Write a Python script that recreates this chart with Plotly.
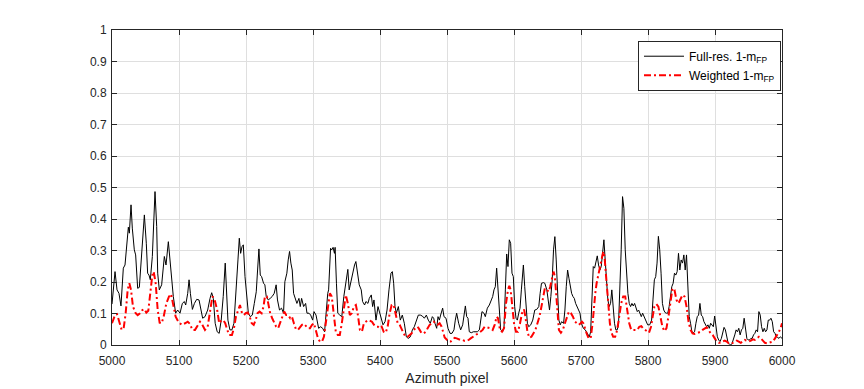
import plotly.graph_objects as go

# Full-res. 1-m_FP (black)
full_x = [5000, 5004.5, 5007.5, 5010.4, 5013.4, 5016.9, 5019.4, 5021.9, 5024.4, 5025.9, 5028.4, 5030.3,
          5033.3, 5035.3, 5038.3, 5040.8, 5044.3, 5048.3, 5051.2, 5053.2, 5055.2, 5057.2, 5060.2, 5064.2,
          5066.7, 5068.2, 5070.6, 5074.1, 5078.1, 5080.6, 5084.1, 5086.6, 5089.1, 5091.5, 5095, 5098,
          5101.5, 5105, 5108, 5110, 5113, 5115, 5117, 5120, 5123, 5126.4, 5129.9, 5132.8, 5135.3, 5138.8,
          5142.8, 5146.3, 5148.8, 5151.2,
          5154, 5157, 5160, 5163, 5166, 5169, 5171, 5173, 5176, 5179, 5182, 5185, 5188, 5190, 5192, 5194,
          5196, 5198.5, 5201, 5203.5, 5206.4, 5209.4, 5212.4, 5215.3, 5217.3, 5219.3, 5221.3, 5223.3,
          5226.2, 5228.2, 5230.2, 5233.2, 5236.1, 5239.1, 5242.1, 5245, 5247, 5250, 5253, 5256, 5258,
          5261, 5263, 5265, 5267, 5269, 5271, 5273, 5276, 5279, 5281, 5283, 5286, 5289, 5291, 5294,
          5296.5, 5299.5, 5301.5, 5304.5, 5306.4, 5308.4, 5311.4, 5314.4, 5317.3,
          5319, 5320.3, 5322, 5323.3, 5325, 5326.2, 5328, 5330, 5332, 5333, 5335, 5337, 5340, 5343, 5346,
          5349, 5352, 5354, 5357, 5360, 5362, 5364, 5366, 5369, 5372, 5374, 5377, 5379, 5382, 5384, 5387,
          5389, 5391, 5394, 5397, 5398.5, 5401.5, 5404.5, 5407.5, 5410.5, 5413.4, 5416.4, 5418.4, 5420.4,
          5422.4, 5424.4, 5427.4, 5430.3, 5433.3, 5436.3, 5439.3, 5442.3, 5445.3, 5448.3, 5451.2, 5454.2,
          5457.2, 5460.2, 5463.2, 5466.2, 5469.2, 5472.1, 5475.1, 5478.1, 5480.1,
          5482, 5484.6, 5486.6, 5488.6, 5490.5, 5493.5, 5495.5, 5498.5, 5501.5, 5504.5, 5507.5, 5510.4,
          5512.4, 5514.4, 5517.4, 5520.4, 5523.4, 5525.4, 5527.4, 5529.4, 5531.3, 5533.3, 5536.3, 5539.3,
          5542.3, 5545.3, 5548.3, 5550.2, 5552.2, 5555.2, 5557.2, 5560.2, 5563.2, 5566.2, 5568.2, 5570.1,
          5572.1, 5574.1, 5576.1, 5578.1, 5580.1, 5583.1, 5585.1, 5587.1, 5589.1, 5591, 5593, 5595, 5597,
          5599, 5601, 5603, 5605, 5607, 5609, 5611, 5614, 5616, 5618, 5620, 5622, 5625, 5628, 5631, 5634,
          5637, 5639, 5641, 5644,
          5646, 5649, 5651, 5653, 5655, 5657, 5659, 5661, 5663, 5665, 5667, 5669, 5671, 5674, 5676, 5678,
          5680, 5682, 5684, 5686, 5688, 5690, 5692, 5694, 5695.5, 5698.5, 5700.5, 5703.5, 5706.4, 5709.4,
          5712.4, 5714.4, 5716.3, 5718.3, 5720.3, 5722.3, 5724.3, 5726.2, 5728.2, 5730.2, 5732.2, 5734.2,
          5736.1, 5738.1, 5740.1, 5742.1, 5744.1, 5746, 5748, 5750, 5752, 5754, 5756, 5758, 5760, 5762,
          5764, 5766, 5768, 5770, 5772, 5774, 5776, 5778, 5780, 5782, 5784, 5786, 5788, 5790, 5792, 5794,
          5795.5, 5797.5, 5799.5, 5802.5, 5805.4, 5807.4,
          5809.5, 5811.5, 5813.5, 5815.5, 5817.5, 5819.5, 5821.5, 5823.5, 5825.5, 5827.5, 5829.5, 5831.5,
          5833.5, 5835.5, 5837.5, 5839.5, 5841.5, 5843.5, 5845.5, 5847.5, 5849.5, 5851.5, 5853.5, 5855.5,
          5857.5, 5859.5, 5861.5, 5863.5, 5865.5, 5867.5, 5869.5, 5871.5, 5873.5, 5875.5, 5877.5, 5879.5,
          5881.5, 5883.5, 5885.5, 5887.5, 5889.5, 5891.5, 5893.5, 5895.5, 5897.5, 5899.5, 5901.5, 5903.5,
          5905.5, 5907.5, 5909.5, 5911.5, 5913.5, 5915.5, 5917.5, 5919.5, 5921.5, 5923.5, 5925.5, 5927.5,
          5929.5, 5931.5, 5933.5, 5935.5, 5937.5, 5939.5, 5941.5, 5943.5, 5945.5, 5947.5, 5949.5, 5951.5,
          5953.5, 5955.5, 5957.5, 5959.5, 5961.5, 5963.5, 5965.5, 5967.5, 5969.5, 5971.5, 5973.5, 5975.5,
          5977.5, 5979.5, 5981.5, 5983.5, 5985.5, 5987.5, 5989.5, 5991.5, 5993.5, 5995.5, 5997.5, 6000]
full_y = [0.13, 0.233, 0.175, 0.164, 0.124, 0.244, 0.254, 0.323, 0.374, 0.355, 0.445, 0.371,
          0.302, 0.286, 0.180, 0.183, 0.281, 0.413, 0.323, 0.228, 0.222, 0.207, 0.281, 0.487,
          0.376, 0.228, 0.175, 0.191, 0.281, 0.254, 0.328, 0.270, 0.217, 0.154, 0.101, 0.111,
          0.101, 0.132, 0.138, 0.127, 0.164, 0.207, 0.164, 0.113, 0.132, 0.145, 0.143, 0.113, 0.085, 0.090,
          0.111, 0.148, 0.166, 0.148,
          0.069, 0.042, 0.037, 0.079, 0.154, 0.260, 0.175, 0.079, 0.048, 0.048, 0.069, 0.154, 0.270, 0.339, 0.291, 0.312,
          0.318, 0.217, 0.143, 0.101, 0.090, 0.095, 0.132, 0.169, 0.238, 0.305, 0.222, 0.217,
          0.196, 0.191, 0.154, 0.143, 0.148, 0.154, 0.164, 0.191, 0.143, 0.111, 0.117, 0.101, 0.201,
          0.228, 0.270, 0.297, 0.260, 0.238, 0.164, 0.148, 0.132, 0.148, 0.122, 0.148, 0.122, 0.132, 0.101, 0.101,
          0.095, 0.079, 0.106, 0.095, 0.069, 0.053, 0.058, 0.053, 0.042,
          0.090, 0.111, 0.164, 0.175, 0.260, 0.307, 0.302, 0.310, 0.291, 0.310, 0.196, 0.101, 0.095, 0.090, 0.154,
          0.196, 0.240, 0.175, 0.207, 0.238, 0.254, 0.265, 0.228, 0.191, 0.175, 0.138, 0.127, 0.138, 0.132, 0.148, 0.159,
          0.122, 0.143, 0.079, 0.122, 0.111, 0.085, 0.064, 0.074, 0.111, 0.175, 0.228, 0.233, 0.196,
          0.122, 0.101, 0.122, 0.079, 0.095, 0.069, 0.026, 0.021, 0.026, 0.048, 0.058, 0.074,
          0.095, 0.095, 0.092, 0.085, 0.095, 0.079, 0.069, 0.090, 0.085,
          0.069, 0.053, 0.090, 0.079, 0.095, 0.117, 0.090, 0.085, 0.053, 0.037, 0.037, 0.048,
          0.079, 0.101, 0.069, 0.048, 0.064, 0.090, 0.124, 0.090, 0.085, 0.042, 0.039, 0.042,
          0.042, 0.042, 0.048, 0.074, 0.106, 0.101, 0.090, 0.117, 0.127, 0.143, 0.154, 0.175,
          0.185, 0.244, 0.164, 0.101, 0.048, 0.042, 0.058, 0.175, 0.289, 0.249, 0.334, 0.323, 0.228,
          0.217, 0.122, 0.085, 0.079, 0.101, 0.117, 0.175, 0.254, 0.185, 0.111, 0.069, 0.058, 0.064, 0.079, 0.111, 0.113,
          0.122, 0.164, 0.196, 0.198,
          0.196, 0.175, 0.132, 0.111, 0.154, 0.207, 0.302, 0.344, 0.270, 0.143, 0.079, 0.064, 0.074, 0.069, 0.111, 0.185,
          0.238, 0.212, 0.185, 0.164, 0.154, 0.148, 0.132, 0.122, 0.111, 0.101, 0.069, 0.053, 0.048, 0.037,
          0.026, 0.042, 0.132, 0.249, 0.244, 0.260, 0.283, 0.254, 0.238, 0.249, 0.291, 0.334,
          0.270, 0.196, 0.143, 0.122, 0.132, 0.175, 0.122, 0.069, 0.048, 0.048, 0.064, 0.164, 0.302, 0.471,
          0.434, 0.302, 0.217, 0.164, 0.132, 0.122, 0.132, 0.124, 0.132, 0.122, 0.106, 0.111, 0.101, 0.090, 0.101, 0.090,
          0.085, 0.074, 0.064, 0.064, 0.079, 0.143,
          0.207, 0.217, 0.260, 0.345, 0.302, 0.228, 0.132, 0.111, 0.103, 0.101, 0.101, 0.122,
          0.164, 0.185, 0.196, 0.228, 0.222, 0.233, 0.291, 0.238, 0.270, 0.260, 0.286, 0.238,
          0.286, 0.175, 0.090, 0.069, 0.042, 0.039, 0.042, 0.069, 0.090, 0.095, 0.132, 0.095,
          0.090, 0.074, 0.064, 0.058, 0.064, 0.053, 0.069, 0.064, 0.058, 0.092, 0.053, 0.026,
          0.016, 0.011, 0.021, 0.042, 0.056, 0.048, 0.026, 0.007, 0.003, 0.000, 0.005, 0.016,
          0.032, 0.048, 0.042, 0.053, 0.032, 0.048, 0.053, 0.085, 0.042, 0.021, 0.016, 0.016,
          0.021, 0.021, 0.032, 0.037, 0.048, 0.042, 0.106, 0.095, 0.058, 0.042, 0.053, 0.042,
          0.048, 0.079, 0.079, 0.085, 0.074, 0.042, 0.037, 0.026, 0.024, 0.021, 0.026, 0.021]

# Weighted 1-m_FP (red dash-dot)
weighted_x = [5000, 5004.5, 5007.5, 5010.4, 5014.4, 5017.4, 5020.4, 5023.4, 5025.9, 5028.4, 5031.3, 5035.3,
              5038.3, 5041.8, 5045.3, 5048.3, 5051.2, 5054.2, 5057.2, 5060.2, 5062.2, 5065.2, 5068.2, 5071.1,
              5074.1, 5077.1, 5081.1, 5085.1, 5088.1, 5091.5, 5095, 5099, 5104, 5109, 5113, 5116.4, 5119.9,
              5123.9, 5127.9, 5131.3, 5134.8, 5138.8, 5142.8, 5146.8, 5149.8, 5152.7,
              5157, 5160, 5163, 5166, 5169, 5172, 5175, 5179, 5182, 5185, 5188, 5191, 5194, 5197, 5199.5,
              5202.5, 5205.5, 5208.5, 5211.5, 5214.4, 5217.3, 5220.3, 5223.3, 5226.2, 5228.2, 5231.2, 5233.2,
              5236.1, 5239.1, 5242.1, 5245, 5248, 5251, 5254, 5257, 5260, 5263, 5266, 5268.5, 5271.5, 5274.5,
              5277.5, 5280.5, 5283.5, 5286.5, 5289.5, 5292.5, 5295.5, 5298.5, 5301.5, 5304.5, 5307.4, 5310.4,
              5313.4, 5316.3, 5319.3, 5322.3, 5325.2,
              5328, 5331, 5334, 5337, 5340, 5343, 5346, 5349, 5352, 5355, 5358, 5361, 5364, 5367, 5370, 5373,
              5376, 5379, 5382, 5385, 5388, 5391, 5394, 5397, 5399.5, 5402.5, 5405.5, 5408.5, 5411.4, 5414.4,
              5417.4, 5420.4, 5423.4, 5426.4, 5429.4, 5432.3, 5435.3, 5438.3, 5441.3, 5444.3, 5447.3, 5450.2,
              5453.2, 5456.2, 5459.2, 5462.2, 5465.2, 5468.2, 5471.1, 5474.1, 5477.1, 5480.1, 5483.1, 5486.1,
              5489, 5492,
              5496.5, 5499.5, 5502.5, 5505.5, 5508.5, 5511.4, 5514.4, 5517.4, 5520.4, 5523.4, 5526.4, 5529.4,
              5532.3, 5535.3, 5538.3, 5541.3, 5544.3, 5547.3, 5550.2, 5553.2, 5556.2, 5559.2, 5562.2, 5565.2,
              5568.2, 5571.1, 5574.1, 5576.1, 5579.1, 5582.1, 5585.1, 5588.1, 5591, 5593, 5595, 5597, 5600,
              5603, 5606, 5609, 5612, 5615, 5617, 5620, 5623, 5626, 5629, 5632, 5635, 5638, 5641, 5644,
              5646, 5649, 5652, 5654, 5657, 5659, 5661, 5663, 5665, 5667, 5670, 5673, 5676, 5679, 5682, 5685,
              5688, 5691, 5694, 5696.5, 5699.5, 5701.5, 5703.5, 5705.4, 5708.4, 5711.4, 5714.4, 5717.3, 5719.3,
              5721.3, 5723.3, 5725.2, 5727.2, 5730.2, 5733.2, 5735.1, 5737.1, 5739.1, 5741.1, 5743.1, 5745,
              5748, 5751, 5754, 5757, 5760, 5763, 5766, 5769, 5772, 5775, 5778, 5781, 5784, 5787, 5790,
              5792.5, 5795.5, 5798.5, 5801.5, 5804.5, 5807.4,
              5809.5, 5812.5, 5815.5, 5818.5, 5821.5, 5824.5, 5827.5, 5830.5, 5833.5, 5836.5, 5839.5, 5842.5,
              5845.5, 5848.5, 5851.5, 5854.5, 5857.5, 5860.5, 5863.5, 5866.5, 5869.5, 5872.5, 5875.5, 5878.5,
              5881.5, 5884.5, 5887.5, 5890.5, 5893.5, 5896.5, 5899.5, 5902.5, 5905.5, 5908.5, 5911.5, 5914.5,
              5917.5, 5920.5, 5923.5, 5926.5, 5929.5, 5932.5, 5935.5, 5938.5, 5941.5, 5944.5, 5947.5, 5950.5,
              5953.5, 5956.5, 5959.5, 5962.5, 5965.5, 5968.5, 5971.5, 5974.5, 5977.5, 5980.5, 5983.5, 5986.5,
              5989.5, 5992.5, 5995.5, 5998.5, 6000]
weighted_y = [0.069, 0.095, 0.098, 0.079, 0.048, 0.053, 0.101, 0.175, 0.196, 0.175, 0.122, 0.101,
              0.095, 0.101, 0.111, 0.114, 0.103, 0.109, 0.175, 0.222, 0.233, 0.196, 0.111, 0.071,
              0.069, 0.090, 0.132, 0.154, 0.162, 0.127, 0.090, 0.074, 0.064, 0.069, 0.074, 0.067, 0.048,
              0.048, 0.064, 0.074, 0.064, 0.048, 0.058, 0.122, 0.154, 0.148,
              0.111, 0.069, 0.077, 0.079, 0.069, 0.048, 0.032, 0.032, 0.053, 0.090, 0.111, 0.127, 0.101, 0.095, 0.101,
              0.103, 0.090, 0.069, 0.064, 0.079, 0.101, 0.106, 0.101, 0.122, 0.154, 0.154, 0.132,
              0.101, 0.085, 0.069, 0.058, 0.053, 0.069, 0.090, 0.106, 0.095, 0.095, 0.085, 0.090, 0.069, 0.050,
              0.048, 0.058, 0.064, 0.067, 0.058, 0.053, 0.053, 0.064, 0.069, 0.048, 0.021, 0.011,
              0.011, 0.026, 0.069, 0.122, 0.164,
              0.154, 0.090, 0.042, 0.032, 0.032, 0.069, 0.122, 0.159, 0.132, 0.095, 0.101, 0.122, 0.127, 0.095, 0.048, 0.042,
              0.069, 0.074, 0.079, 0.077, 0.074, 0.064, 0.058, 0.058, 0.053, 0.058, 0.042, 0.039, 0.058, 0.101,
              0.127, 0.127, 0.095, 0.069, 0.064, 0.048, 0.037, 0.026, 0.026, 0.032, 0.037, 0.048,
              0.053, 0.058, 0.048, 0.037, 0.037, 0.042, 0.053, 0.064, 0.069, 0.074, 0.069, 0.064,
              0.069, 0.058,
              0.024, 0.016, 0.011, 0.011, 0.016, 0.023, 0.021, 0.018, 0.016, 0.016, 0.013, 0.014,
              0.016, 0.021, 0.026, 0.029, 0.034, 0.037, 0.042, 0.048, 0.058, 0.056, 0.053, 0.053,
              0.048, 0.064, 0.090, 0.085, 0.048, 0.042, 0.053, 0.132, 0.175, 0.188, 0.175, 0.132, 0.069,
              0.042, 0.042, 0.069, 0.101, 0.113, 0.090, 0.042, 0.023, 0.026, 0.037, 0.048, 0.069, 0.090, 0.122, 0.154,
              0.180, 0.175, 0.169, 0.185, 0.212, 0.233, 0.217, 0.154, 0.090, 0.048, 0.039, 0.048, 0.069, 0.090, 0.106, 0.101,
              0.090, 0.074, 0.069, 0.064, 0.069, 0.074, 0.069, 0.053, 0.037, 0.021, 0.021, 0.069, 0.122,
              0.164, 0.196, 0.217, 0.238, 0.270, 0.297, 0.281, 0.228, 0.164, 0.111, 0.069, 0.042,
              0.026, 0.026, 0.048, 0.090, 0.132, 0.154, 0.154, 0.111, 0.069, 0.048, 0.048, 0.048, 0.048, 0.058, 0.060,
              0.053, 0.048, 0.042, 0.039, 0.058, 0.090,
              0.122, 0.130, 0.122, 0.090, 0.058, 0.044, 0.053, 0.090, 0.143, 0.180, 0.175, 0.143,
              0.132, 0.148, 0.159, 0.154, 0.122, 0.074, 0.048, 0.037, 0.035, 0.037, 0.039, 0.042,
              0.048, 0.053, 0.056, 0.048, 0.037, 0.032, 0.021, 0.011, 0.007, 0.007, 0.011, 0.014,
              0.011, 0.005, 0.003, 0.007, 0.011, 0.014, 0.011, 0.007, 0.011, 0.016, 0.014, 0.011,
              0.014, 0.018, 0.016, 0.021, 0.026, 0.021, 0.014, 0.007, 0.005, 0.007, 0.007, 0.011,
              0.021, 0.032, 0.042, 0.058, 0.069]

x_ticks = [5000, 5100, 5200, 5300, 5400, 5500, 5600, 5700, 5800, 5900, 6000]
y_ticks = [0, 0.1, 0.2, 0.3, 0.4, 0.5, 0.6, 0.7, 0.8, 0.9, 1]

FONT = "Liberation Sans, Arial, Helvetica, sans-serif"
AX = "#262626"
GRID = "#dfdfdf"

fig = go.Figure()
fig.add_trace(go.Scatter(x=full_x, y=full_y, mode="lines", name="Full-res. 1-m<sub>FP</sub>",
                         line=dict(color="black", width=1)))
fig.add_trace(go.Scatter(x=weighted_x, y=weighted_y, mode="lines", name="Weighted 1-m<sub>FP</sub>",
                         line=dict(color="#ff0000", width=2, dash="7px,3px,2px,3px")))

axis_common = dict(showgrid=True, gridcolor=GRID, gridwidth=1, zeroline=False,
                   showline=True, linecolor=AX, linewidth=1, mirror="ticks",
                   ticks="inside", ticklen=5, tickcolor=AX, tickwidth=1,
                   tickfont=dict(family=FONT, size=12, color=AX))

fig.update_xaxes(range=[5000, 6000], tickvals=x_ticks, ticktext=[str(v) for v in x_ticks],
                 ticklabelstandoff=5,
                 title=dict(text="Azimuth pixel", font=dict(family=FONT, size=14, color=AX), standoff=5),
                 **axis_common)
fig.update_yaxes(range=[0, 1], tickvals=y_ticks, ticktext=[("%g" % v) for v in y_ticks],
                 ticklabelstandoff=2,
                 **axis_common)

# The page body adds an 8px offset, margins compensate for it.
fig.update_layout(
    width=864, height=389,
    margin=dict(l=104, r=90, t=22, b=52),
    paper_bgcolor="white", plot_bgcolor="white",
    font=dict(family=FONT, size=12, color=AX),
    showlegend=True,
    legend=dict(x=0.9985, y=0.966, xanchor="right", yanchor="top",
                bgcolor="white", bordercolor=AX, borderwidth=1,
                font=dict(family=FONT, size=12, color="black"),
                tracegroupgap=0, itemwidth=40),
)

fig.write_html("out.html")
